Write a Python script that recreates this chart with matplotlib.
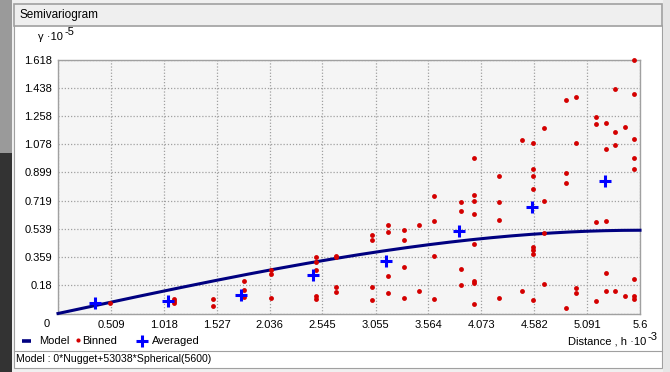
import matplotlib
matplotlib.use("Agg")
import matplotlib.pyplot as plt
import numpy as np
from matplotlib.patches import Rectangle

plt.rcParams['font.family'] = ['Liberation Sans', 'DejaVu Sans']

# ---- data (x: distance *1e-3, y: gamma *1e-5) ----
binned_x = [0.50,
            1.116, 1.116, 1.116,
            1.489, 1.489,
            1.79, 1.79, 1.79,
            2.05, 2.05, 2.05,
            2.48, 2.48, 2.48, 2.48, 2.48,
            2.675, 2.675, 2.675, 2.675,
            3.02, 3.02, 3.02, 3.02,
            3.172, 3.172, 3.172, 3.172,
            3.326, 3.326, 3.326, 3.326,
            3.474, 3.474,
            3.615, 3.615, 3.615, 3.615,
            3.875, 3.875, 3.875, 3.875,
            4.003, 4.003, 4.003, 4.003, 4.003, 4.003, 4.003, 4.003,
            4.243, 4.243, 4.243, 4.243,
            4.465, 4.465,
            4.567, 4.567, 4.567, 4.567, 4.567, 4.567, 4.567, 4.567,
            4.676, 4.676, 4.676, 4.676,
            4.888, 4.888, 4.888, 4.888,
            4.981, 4.981, 4.981, 4.981,
            5.177, 5.177, 5.177, 5.177,
            5.273, 5.273, 5.273, 5.273, 5.273,
            5.359, 5.359, 5.359, 5.359,
            5.455, 5.455,
            5.542, 5.542, 5.542, 5.542, 5.542, 5.542, 5.542, 5.542]
binned_y = [0.067,
            0.094, 0.080, 0.067,
            0.094, 0.048,
            0.209, 0.152, 0.103,
            0.28, 0.25, 0.097,
            0.362, 0.33, 0.279, 0.113, 0.092,
            0.368, 0.36, 0.171, 0.137,
            0.502, 0.47, 0.169, 0.086,
            0.566, 0.521, 0.241, 0.132,
            0.534, 0.47, 0.298, 0.10,
            0.566, 0.143,
            0.75, 0.591, 0.368, 0.094,
            0.712, 0.655, 0.285, 0.183,
            0.992, 0.757, 0.718, 0.636, 0.443, 0.209, 0.196, 0.062,
            0.878, 0.712, 0.597, 0.10,
            1.107, 0.143,
            1.088, 0.922, 0.878, 0.793, 0.426, 0.404, 0.381, 0.088,
            1.181, 0.718, 0.515, 0.19,
            1.362, 0.897, 0.833, 0.037,
            1.379, 1.088, 0.162, 0.132,
            1.252, 1.207, 0.585, 0.082,
            1.215, 1.05, 0.591, 0.26, 0.145,
            1.432, 1.158, 1.075, 0.145,
            1.19, 0.113,
            1.617, 1.398, 1.113, 0.992, 0.922, 0.222, 0.113, 0.094]

avg_x = [0.356, 1.058, 1.758, 2.457, 3.153, 3.855, 4.558, 5.26]
avg_y = [0.069, 0.082, 0.12, 0.245, 0.334, 0.527, 0.678, 0.842]

# model: 0*Nugget + 53038*Spherical(5600)
nugget = 0.0
sill = 0.53038
model_range = 5.6

xticks = [0, 0.509, 1.018, 1.527, 2.036, 2.545, 3.055, 3.564, 4.073, 4.582, 5.091, 5.6]
xtick_labels = ['', '0.509', '1.018', '1.527', '2.036', '2.545', '3.055', '3.564',
                '4.073', '4.582', '5.091', '5.6']
yticks = [0, 0.18, 0.359, 0.539, 0.719, 0.899, 1.078, 1.258, 1.438, 1.618]
ytick_labels = ['', '0.18', '0.359', '0.539', '0.719', '0.899', '1.078', '1.258',
                '1.438', '1.618']

W, H = 670, 372
fig = plt.figure(figsize=(W / 100, H / 100), dpi=100, facecolor='#F0F0F0')

# background "window" drawn in pixel coordinates
bg = fig.add_axes([0, 0, 1, 1])
bg.set_xlim(0, W)
bg.set_ylim(H, 0)
bg.axis('off')

bg.add_patch(Rectangle((0, 0), 12, 153, color='#9A9A9A', lw=0))
bg.add_patch(Rectangle((0, 153), 12, H - 153, color='#333333', lw=0))
bg.add_patch(Rectangle((13.5, 25), 648, 343, facecolor='white', edgecolor='#A0A0A0', lw=0.8))
bg.add_patch(Rectangle((13.5, 3.5), 648, 22, facecolor='#EFEFEF', edgecolor='#A0A0A0', lw=1.2))
bg.plot([13.5, 661.5], [351, 351], color='#A0A0A0', lw=0.8)
bg.add_patch(Rectangle((663, 0), 7, H, color='#E6E6E6', lw=0))

bg.text(19, 15, 'Semivariogram', fontsize=8.5, va='center', ha='left', color='#000000')
bg.text(38, 40, 'γ ·10', fontsize=8, va='baseline', ha='left')
bg.text(64.5, 35, '-5', fontsize=8, va='baseline', ha='left')
bg.text(47, 324, '0', fontsize=8, va='center', ha='center')
bg.text(568, 344.5, 'Distance , h ·10', fontsize=8, va='baseline', ha='left')
bg.text(648, 339.5, '-3', fontsize=8, va='baseline', ha='left')
bg.text(16, 359, 'Model : 0*Nugget+53038*Spherical(5600)', fontsize=7.6, va='center', ha='left')

# legend drawn by hand
bg.plot([22, 31], [340.5, 340.5], color='#000080', lw=2.6, solid_capstyle='butt')
bg.text(39, 341, 'Model', fontsize=8, va='center', ha='left')
bg.plot([77.7], [340], marker='o', color='#D40000', ms=3.0, mew=0)
bg.text(82.5, 341, 'Binned', fontsize=8, va='center', ha='left')
bg.plot([141.7], [340.5], marker='+', color='#0000FF', ms=8, mew=2.2)
bg.text(151.5, 341, 'Averaged', fontsize=8, va='center', ha='left')

# plot area
ax = fig.add_axes([58 / W, 1 - 313.5 / H, 582 / W, 254 / H])
ax.set_facecolor('#F5F5F5')
ax.set_xlim(0, 5.6)
ax.set_ylim(0, 1.618)
for s in ax.spines.values():
    s.set_color('#A0A0A0')
    s.set_linewidth(1.0)
ax.set_xticks(xticks)
ax.set_xticklabels(xtick_labels)
ax.set_yticks(yticks)
ax.set_yticklabels(ytick_labels)
ax.tick_params(length=0, labelsize=8, colors='#000000', pad=4.5)
ax.grid(True, color='#A0A0A0', linestyle=(0, (1, 1.5)), linewidth=0.9)
ax.set_axisbelow(True)

h = np.linspace(0, model_range, 200)
r = h / model_range
gam = nugget + sill * (1.5 * r - 0.5 * r ** 3)
ax.plot(h, gam, color='#000080', lw=2.2, zorder=3, clip_on=False)

ax.plot(binned_x, binned_y, linestyle='none', marker='o', color='#D40000',
        ms=3.5, mew=0, zorder=4, clip_on=False)
ax.plot(avg_x, avg_y, linestyle='none', marker='+', color='#0000FF',
        ms=8, mew=2.2, zorder=5, clip_on=False)

fig.savefig('out.png', dpi=100, facecolor=fig.get_facecolor())
